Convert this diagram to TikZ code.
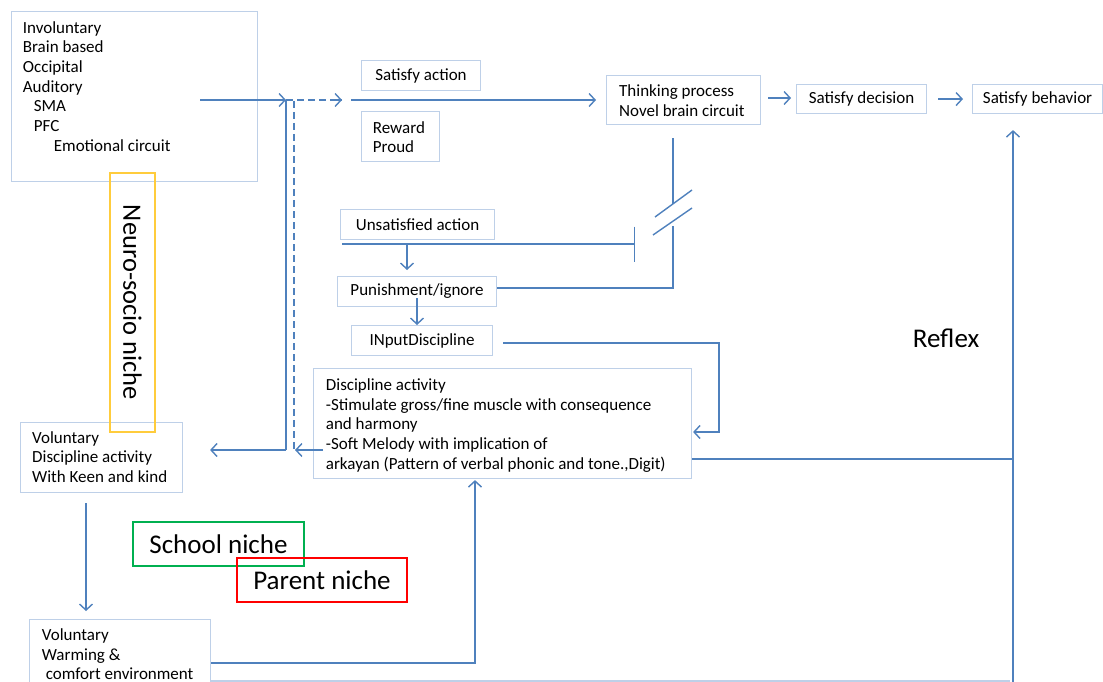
\documentclass[tikz,border=0pt]{standalone}
\usepackage{fontspec}
\setmainfont{Carlito}
\usetikzlibrary{arrows.meta}
\definecolor{lnc}{RGB}{79,129,189}
\definecolor{bxc}{RGB}{190,208,232}
\definecolor{yel}{RGB}{255,204,60}
\definecolor{grn}{RGB}{0,176,80}
\definecolor{rd}{RGB}{255,0,0}
\begin{document}
\begin{tikzpicture}[x=1pt,y=-1pt,
 bx/.style={draw=bxc,line width=1.1pt,inner sep=0pt,anchor=north west,font=\fontsize{17}{19.7}\selectfont},
 tx/.style={inner sep=0pt,font=\fontsize{17}{19.7}\selectfont,align=left,anchor=north west},
 ln/.style={draw=lnc,line width=1.4pt},
 ar/.style={ln,-{Straight Barb[length=6pt,width=13pt,line width=1.4pt]}},
 dsh/.style={draw=lnc,line width=1.3pt,dash pattern=on 7pt off 4pt},
 big/.style={font=\fontsize{27}{32}\selectfont,inner sep=0pt,line width=1.3pt}]
\useasboundingbox (0,0) rectangle (1103,682);
\fill[white] (0,0) rectangle (1103,682);

% boxes
\node[bx,minimum width=246,minimum height=170] (A) at (11,11) {};
\node[tx] (At) at (22.7,21) {Involuntary\\Brain based\\Occipital\\Auditory\\\hspace*{11pt}SMA\\\hspace*{11pt}PFC\\\hspace*{31pt}Emotional circuit};
\node[bx,minimum width=119,minimum height=30] (Sact) at (361,60) {Satisfy action};
\node[bx,minimum width=78,minimum height=50] (Rew) at (361,111) {};
\node[tx] (Rewt) at (372.7,121) {Reward\\Proud};
\node[bx,minimum width=154,minimum height=49] (Think) at (606,75) {};
\node[tx] (Thinkt) at (619,84.5) {Thinking process\\Novel brain circuit};
\node[bx,minimum width=130,minimum height=29,yshift=-1pt] (Sdec) at (796,83) {Satisfy decision};
\node[bx,minimum width=130,minimum height=29,yshift=-1pt] (Sbeh) at (972,83) {Satisfy behavior};
\node[bx,minimum width=154,minimum height=30] (Unsat) at (340,209) {Unsatisfied action};
\node[bx,minimum width=159,minimum height=30] (Pun) at (337,276) {Punishment/ignore};
\node[bx,minimum width=141,minimum height=30] (Inp) at (351,325) {INputDiscipline};
\node[bx,minimum width=378,minimum height=110] (Disc) at (313,368) {};
\node[tx] (Disct) at (325.7,378.5) {Discipline activity\\-Stimulate gross/fine muscle with consequence\\and harmony\\-Soft Melody with implication of\\arkayan (Pattern of verbal phonic and tone.,Digit)};
\node[bx,minimum width=162,minimum height=70] (Vol) at (20,422) {};
\node[tx] (Volt) at (32,431) {Voluntary\\Discipline activity\\With Keen and kind};
\node[bx,minimum width=181,minimum height=70] (Warm) at (29,619) {};
\node[tx] (Warmt) at (41.7,628.5) {Voluntary\\Warming \&\\\hspace*{4pt}comfort environment};

% niche labels
\node[big,draw=yel,rotate=-90,minimum width=259,minimum height=45,font=\fontsize{26.5}{30}\selectfont] (Neuro) at (132.5,302.5) {Neuro-socio niche};
\node[big,draw=grn,minimum width=171,minimum height=44] (School) at (218.5,544) {School niche};
\node[big,draw=rd,minimum width=170,minimum height=44] (Parent) at (322,580) {Parent niche};
\node[big] (Reflex) at (946,338) {Reflex};

% coordinates
\coordinate (a1) at (200,100);
\coordinate (j1) at (286,100);
\coordinate (j2) at (294,101);
\coordinate (d1) at (342,100);
\coordinate (s1) at (351,100);

% connectors top
\draw[ar] (a1) -- (j1);
\draw[dsh] (j1) -- (d1);
\draw[ar,draw=lnc] ([xshift=-8pt]d1) -- (d1);
\draw[ar] (s1) -- ([xshift=-10pt]Think.west |- s1);
\draw[ln] (j1) -- (286,450);
\draw[ar] (286,450) -- ([xshift=27pt]Vol.east |- 0,450);
\draw[dsh] (j2) -- (294,450);
\draw[ar] ([xshift=10pt]Disc.west |- 0,450) -- (295,450);
\draw[ar] ([xshift=7pt]Think.east |- 0,98) -- ([xshift=-5pt]Sdec.west |- 0,98);
\draw[ar] ([xshift=11pt]Sdec.east) -- ([xshift=-9pt]Sbeh.west);

% thinking process broken line
\draw[ln] ([yshift=-13pt]Think.south -| 673,0) -- (673,204);
\draw[ln] (655,217) -- (692,190);
\draw[ln] (653,235) -- (692,208);
\draw[ln] (673,226) -- (673,288) -- (Pun.east |- 0,288);

% unsatisfied line with bar
\draw[ln,-{Bar[width=35pt,line width=1.4pt]}] (342,244) -- (635,244);
\draw[ar] (407,244) -- ([yshift=6pt]Pun.north -| 407,0);
\draw[ar] (417,298) -- (Inp.north -| 417,0);

% input -> discipline
\draw[ar] ([xshift=10pt]Inp.east |- 0,343) -- (719,343) -- (719,432) -- ([xshift=1pt]Disc.east |- 0,432);

% discipline -> reflex line -> satisfy behavior
\draw[ln] (Disc.east |- 0,459) -- (1013,459);
\draw[ar] (1013,682) -- ([yshift=-16pt]Sbeh.south -| 1013,0);

% voluntary -> warming
\draw[ar] (86,503) -- ([yshift=8pt]Warm.north -| 86,0);
% warming -> discipline
\draw[ar] (Warm.east |- 0,663) -- (475,663) -- ([yshift=-1pt]Disc.south -| 475,0);
\draw[draw=bxc,line width=1.1pt] (Warm.east |- 0,681) -- (1010,681);
\end{tikzpicture}
\end{document}
